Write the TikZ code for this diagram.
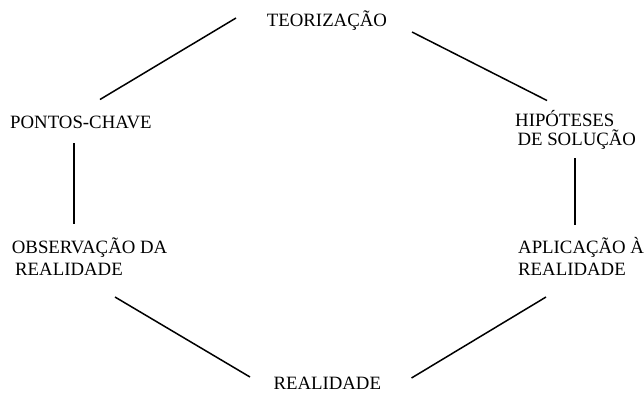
\documentclass[tikz,border=0pt]{standalone}
\usepackage{fontspec}
\setmainfont{Liberation Serif}
\begin{document}
\begin{tikzpicture}[x=1bp,y=-1bp,
  lbl/.style={inner sep=0pt, anchor=base west, align=left,
    font=\fontsize{18.8bp}{21.7bp}\selectfont},
  link/.style={line width=1.5bp, black}]
\useasboundingbox (0,0) rectangle (644,392);
% labels (multi-line nodes are placed by the baseline of their last line)
\node[lbl] (teo) at (266.7,26.7) {TEORIZAÇÃO};
\node[lbl] (pon) at (10,128.3) {PONTOS-CHAVE};
\node[lbl] (hip) at (515,145) {HIPÓTESES\\[-2.7bp]\hspace*{2.3bp}DE SOLUÇÃO};
\node[lbl] (obs) at (11.7,275) {OBSERVAÇÃO DA\\\hspace*{3.3bp}REALIDADE};
\node[lbl] (apl) at (518,275) {APLICAÇÃO À\\REALIDADE};
\node[lbl] (rea) at (273.3,389.3) {REALIDADE};
% connector end points
\coordinate (teoL) at (236,18);   \coordinate (ponT) at (100,99.5);
\coordinate (teoR) at (412,32);   \coordinate (hipT) at (547,100.5);
\coordinate (ponB) at (74,143);   \coordinate (obsT) at (74,223.5);
\coordinate (hipB) at (575,158);  \coordinate (aplT) at (575,225);
\coordinate (obsB) at (115,297);  \coordinate (reaL) at (250,377);
\coordinate (aplB) at (546,297);  \coordinate (reaR) at (411.5,378);
% connectors
\draw[link] (teoL) -- (ponT);
\draw[link] (teoR) -- (hipT);
\draw[link] (ponB) -- (obsT);
\draw[link] (hipB) -- (aplT);
\draw[link] (obsB) -- (reaL);
\draw[link] (aplB) -- (reaR);
\end{tikzpicture}
\end{document}
